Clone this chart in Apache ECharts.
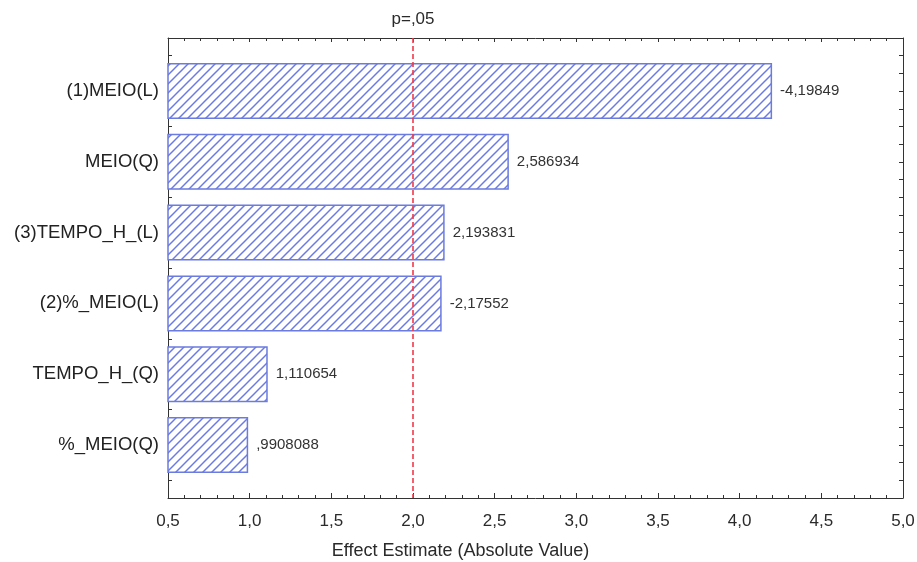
<!DOCTYPE html>
<html>
<head>
<meta charset="utf-8">
<script src="https://cdn.jsdelivr.net/npm/echarts@6/dist/echarts.min.js"></script>
<style>html,body{margin:0;padding:0;background:#fff}#c{width:917px;height:562px}</style>
</head>
<body>
<div id="c"></div>
<script>
const categories = ['(1)MEIO(L)', 'MEIO(Q)', '(3)TEMPO_H_(L)', '(2)%_MEIO(L)', 'TEMPO_H_(Q)', '%_MEIO(Q)'];
const effects = [-4.19849, 2.586934, 2.193831, -2.17552, 1.110654, 0.9908088];
const xTicks = { min: 0.5, max: 5.0, interval: 0.5 };
const pLimit = 2.0;
const pLabel = 'p=,05';

const FONT = 'Liberation Sans, Arial, sans-serif';
const HATCH = '#6b7be0';
const AX = '#333';

// hatch pattern
const s = 9;
const cv = document.createElement('canvas');
cv.width = s; cv.height = s;
const cx = cv.getContext('2d');
cx.fillStyle = '#fff'; cx.fillRect(0, 0, s, s);
cx.strokeStyle = HATCH; cx.lineWidth = 1.5;
for (const k of [-s, 0, s]) { cx.beginPath(); cx.moveTo(k - 1, s + 1); cx.lineTo(k + s + 1, -1); cx.stroke(); }

function fmt(v) {
  let t = String(v).replace('.', ',');
  t = t.replace(/^0,/, ',').replace(/^-0,/, '-,');
  return t;
}

const L = 168, R = 14, T = 38, B = 64;
const H = 562 - T - B;
const unit = H / 6.5;
const pad = unit * 0.25;

const chart = echarts.init(document.getElementById('c'));
const lineStyle = { color: AX, width: 1 };
chart.setOption({
  animation: false,
  backgroundColor: '#fff',
  grid: [
    { left: L, right: R, top: T, bottom: B, containLabel: false, outerBoundsMode: 'none' },
    { left: L, right: R, top: T + pad, bottom: B + pad, containLabel: false, outerBoundsMode: 'none' }
  ],
  xAxis: [
    { gridIndex: 0, type: 'value', position: 'bottom', min: xTicks.min, max: xTicks.max, interval: xTicks.interval,
      axisLine: { show: true, onZero: false, lineStyle }, splitLine: { show: false },
      axisTick: { show: true, inside: true, length: 5, lineStyle },
      minorTick: { show: true, splitNumber: 5, length: 3, lineStyle },
      axisLabel: { margin: 15, color: '#2a2a2a', fontSize: 17, fontFamily: FONT, formatter: v => v.toFixed(1).replace('.', ',') },
      name: 'Effect Estimate (Absolute Value)', nameLocation: 'middle', nameGap: 44,
      nameTextStyle: { color: '#2a2a2a', fontSize: 18, fontFamily: FONT, padding: [0, 150, 0, 0] } },
    { gridIndex: 0, type: 'value', position: 'top', min: xTicks.min, max: xTicks.max, interval: xTicks.interval,
      axisLine: { show: true, onZero: false, lineStyle }, splitLine: { show: false },
      axisTick: { show: true, inside: true, length: 4, lineStyle },
      minorTick: { show: true, splitNumber: 5, length: 3, lineStyle },
      axisLabel: { show: false } },
    { gridIndex: 1, type: 'value', min: xTicks.min, max: xTicks.max, show: false }
  ],
  yAxis: [
    { gridIndex: 0, type: 'value', position: 'left', min: -0.75, max: 5.75, interval: 0.25, inverse: true,
      axisLine: { show: true, onZero: false, lineStyle }, splitLine: { show: false },
      axisTick: { show: true, inside: true, length: 4, lineStyle }, axisLabel: { show: false } },
    { gridIndex: 0, type: 'value', position: 'right', min: -0.75, max: 5.75, interval: 0.25, inverse: true,
      axisLine: { show: true, onZero: false, lineStyle }, splitLine: { show: false },
      axisTick: { show: true, inside: true, length: 4, lineStyle }, axisLabel: { show: false } },
    { gridIndex: 1, type: 'category', data: categories, inverse: true,
      axisLine: { show: false, onZero: false }, axisTick: { show: false }, splitLine: { show: false },
      axisLabel: { margin: 9, color: '#222', fontSize: 18.5, fontFamily: FONT } }
  ],
  series: [
    { type: 'bar', xAxisIndex: 2, yAxisIndex: 2, barWidth: 56,
      data: effects.map(v => Math.abs(v)),
      itemStyle: { color: { image: cv, repeat: 'repeat' }, borderColor: HATCH, borderWidth: 1.5 },
      label: { show: true, position: 'right', distance: 8, color: '#333', fontSize: 15, fontFamily: FONT,
        formatter: p => fmt(effects[p.dataIndex]) } },
    { type: 'scatter', xAxisIndex: 0, yAxisIndex: 0, symbolSize: 0, data: [[pLimit, 0]], silent: true, z: 5,
      itemStyle: { color: '#f03a4a' },
      markLine: { silent: true, symbol: ['none', 'none'], animation: false,
        lineStyle: { color: '#f03a4a', type: [5, 3], width: 1.6, opacity: 1 },
        label: { show: true, position: 'start', formatter: pLabel, distance: 10, color: '#2a2a2a', fontSize: 17, fontFamily: FONT },
        data: [{ xAxis: pLimit }] } }
  ]
});
</script>
</body>
</html>
